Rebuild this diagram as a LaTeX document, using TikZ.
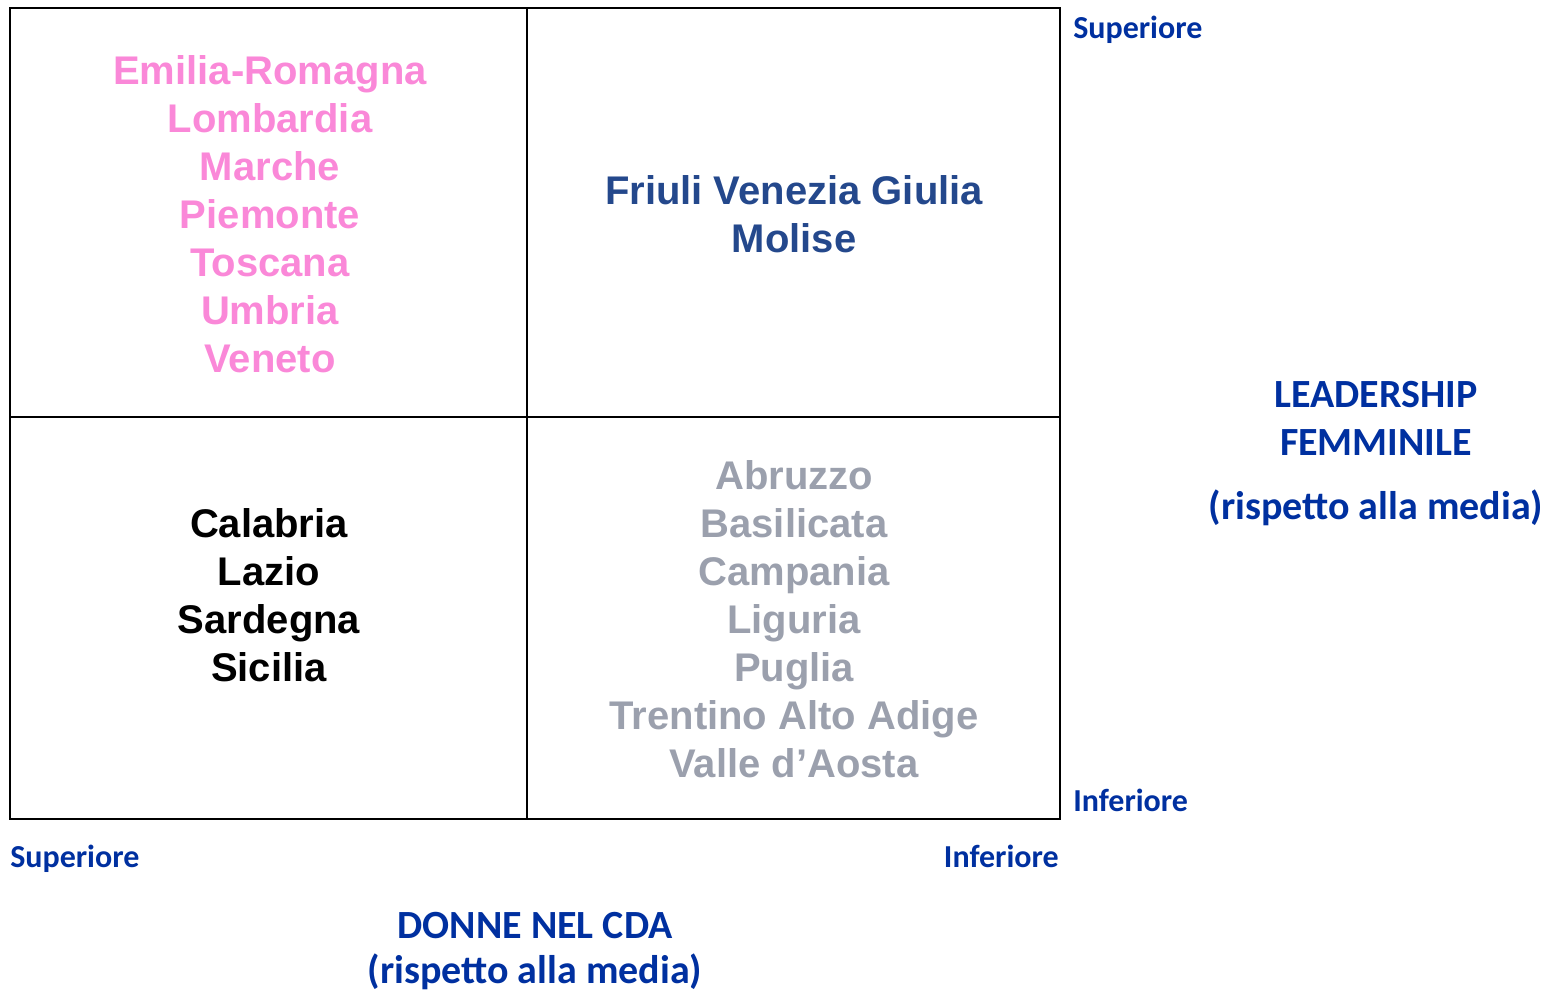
\documentclass[tikz,border=0pt]{standalone}
\usepackage{fontspec}
\setmainfont{Liberation Sans}
\newfontfamily\calib{Carlito}
\definecolor{pinkreg}{RGB}{250,136,216}
\definecolor{navyreg}{RGB}{36,72,140}
\definecolor{greyreg}{RGB}{155,160,173}
\definecolor{lblblue}{RGB}{0,48,160}
\tikzset{
  reg/.style={anchor=base, inner sep=0pt, font=\fontsize{30}{36}\selectfont\bfseries},
  lbl/.style={inner sep=0pt, text=lblblue, font=\calib\fontsize{24}{29}\selectfont\bfseries},
  axis/.style={anchor=base, inner sep=0pt, text=lblblue, font=\calib\fontsize{30}{36}\selectfont\bfseries},
  frame/.style={draw=black, line width=1.5pt}
}
\begin{document}
\begin{tikzpicture}[x=0.75pt, y=-0.75pt]
\useasboundingbox (0,0) rectangle (1545,990);
% grid
\coordinate (tl) at (10,8);
\coordinate (br) at (1060,819);
\draw[frame] (tl) rectangle (br);
\coordinate (vt) at (527,8);
\coordinate (vb) at (527,819);
\coordinate (hl) at (10,417);
\coordinate (hr) at (1060,417);
\draw[frame] (vt) -- (vb);
\draw[frame] (hl) -- (hr);
% top-left
\foreach \t [count=\i from 0] in {Emilia-Romagna,Lombardia,Marche,Piemonte,Toscana,Umbria,Veneto}
  \node[reg, text=pinkreg] (p\i) at (270,{84+48*\i}) {\t};
% top-right
\node[reg, text=navyreg] (f1) at (794,204) {Friuli Venezia Giulia};
\node[reg, text=navyreg] (f2) at (794,252) {Molise};
% bottom-left
\foreach \t [count=\i from 0] in {Calabria,Lazio,Sardegna,Sicilia}
  \node[reg, text=black] (b\i) at (269,{537+48*\i}) {\t};
% bottom-right
\foreach \t [count=\i from 0] in {Abruzzo,Basilicata,Campania,Liguria,Puglia,Trentino Alto Adige,Valle d’Aosta}
  \node[reg, text=greyreg] (g\i) at (794,{489+48*\i}) {\t};
% axis labels
\node[lbl, anchor=base west] (rs) at (1073,38) {Superiore};
\node[lbl, anchor=base west] (ri) at (1073,811) {Inferiore};
\node[lbl, anchor=base west] (bs) at (10,867) {Superiore};
\node[lbl, anchor=base east] (bi) at (1059,867) {Inferiore};
\node[axis] (l1) at (1376,407) {LEADERSHIP};
\node[axis] (l2) at (1376,455) {FEMMINILE};
\node[axis] (l3) at (1376,519) {(rispetto alla media)};
\node[axis] (d1) at (535,938) {DONNE NEL CDA};
\node[axis] (d2) at (535,983) {(rispetto alla media)};
\end{tikzpicture}
\end{document}
